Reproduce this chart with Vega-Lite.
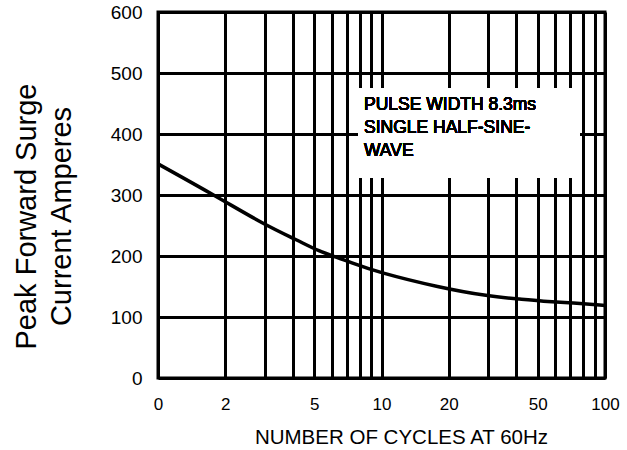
{
  "$schema": "https://vega.github.io/schema/vega-lite/v6.json",
  "width": 447,
  "height": 366,
  "autosize": "none",
  "padding": {"left": 158, "top": 12, "right": 22, "bottom": 72},
  "background": "white",
  "config": {
    "view": {"stroke": "black", "strokeWidth": 3},
    "font": "Liberation Sans"
  },
  "data": {
    "values": [
      {"cycles": 1, "current": 351},
      {"cycles": 1.84, "current": 297},
      {"cycles": 3.0, "current": 251},
      {"cycles": 4.2, "current": 226},
      {"cycles": 5.3, "current": 207},
      {"cycles": 6.3, "current": 198},
      {"cycles": 7.2, "current": 190},
      {"cycles": 9.5, "current": 174},
      {"cycles": 18.3, "current": 148},
      {"cycles": 30, "current": 134},
      {"cycles": 42.5, "current": 129},
      {"cycles": 52, "current": 126},
      {"cycles": 72, "current": 123},
      {"cycles": 100, "current": 119}
    ]
  },
  "layer": [
    {
      "mark": {"type": "line", "color": "black", "strokeWidth": 3.5, "interpolate": "basis"},
      "encoding": {
        "x": {
          "field": "cycles",
          "type": "quantitative",
          "scale": {"type": "log", "domain": [1, 100]},
          "axis": {
            "values": [1, 2, 3, 4, 5, 6, 7, 8, 9, 10, 20, 30, 40, 50, 60, 70, 80, 90, 100],
            "format": "d",
            "labelExpr": "indexof([1,2,5,10,20,50,100], datum.value) >= 0 ? (datum.value == 1 ? '0' : datum.label) : ''",
            "labelOverlap": false,
            "labelFlush": false,
            "labelFontSize": 17,
            "labelColor": "black",
            "labelPadding": 18,
            "labelDx": -5,
            "ticks": false,
            "domain": false,
            "grid": true,
            "gridColor": "black",
            "gridWidth": 3,
            "gridOpacity": 1,
            "title": "NUMBER OF CYCLES AT 60Hz",
            "titleFontSize": 20.5,
            "titleFontWeight": "normal",
            "titleColor": "black",
            "titleX": 243,
            "titleY": 59,
            "titleBaseline": "middle",
            "titleAlign": "center"
          }
        },
        "y": {
          "field": "current",
          "type": "quantitative",
          "scale": {"domain": [0, 600]},
          "axis": {
            "values": [0, 100, 200, 300, 400, 500, 600],
            "labelFontSize": 19,
            "labelColor": "black",
            "labelPadding": 16,
            "ticks": false,
            "domain": false,
            "grid": true,
            "gridColor": "black",
            "gridWidth": 3,
            "gridOpacity": 1,
            "title": ["Peak Forward Surge", "Current  Amperes"],
            "titleFontSize": 29,
            "titleFontWeight": "normal",
            "titleColor": "black",
            "titleAngle": -90,
            "titleLineHeight": 35,
            "titleBaseline": "top",
            "titleAlign": "center",
            "titleX": -146,
            "titleY": 204
          }
        }
      }
    },
    {
      "mark": {"type": "rect", "color": "white", "opacity": 1},
      "encoding": {
        "x": {"datum": 7.85},
        "x2": {"datum": 77},
        "y": {"datum": 475},
        "y2": {"datum": 328}
      }
    },
    {
      "mark": {
        "type": "text",
        "align": "left",
        "baseline": "top",
        "fontSize": 17.5,
        "lineHeight": 23,
        "lineBreak": "\n",
        "color": "black"
      },
      "encoding": {
        "x": {"datum": 8.35},
        "y": {"datum": 463},
        "text": {"value": "PULSE WIDTH 8.3ms\nSINGLE HALF-SINE-\nWAVE"}
      }
    }
  ]
}
